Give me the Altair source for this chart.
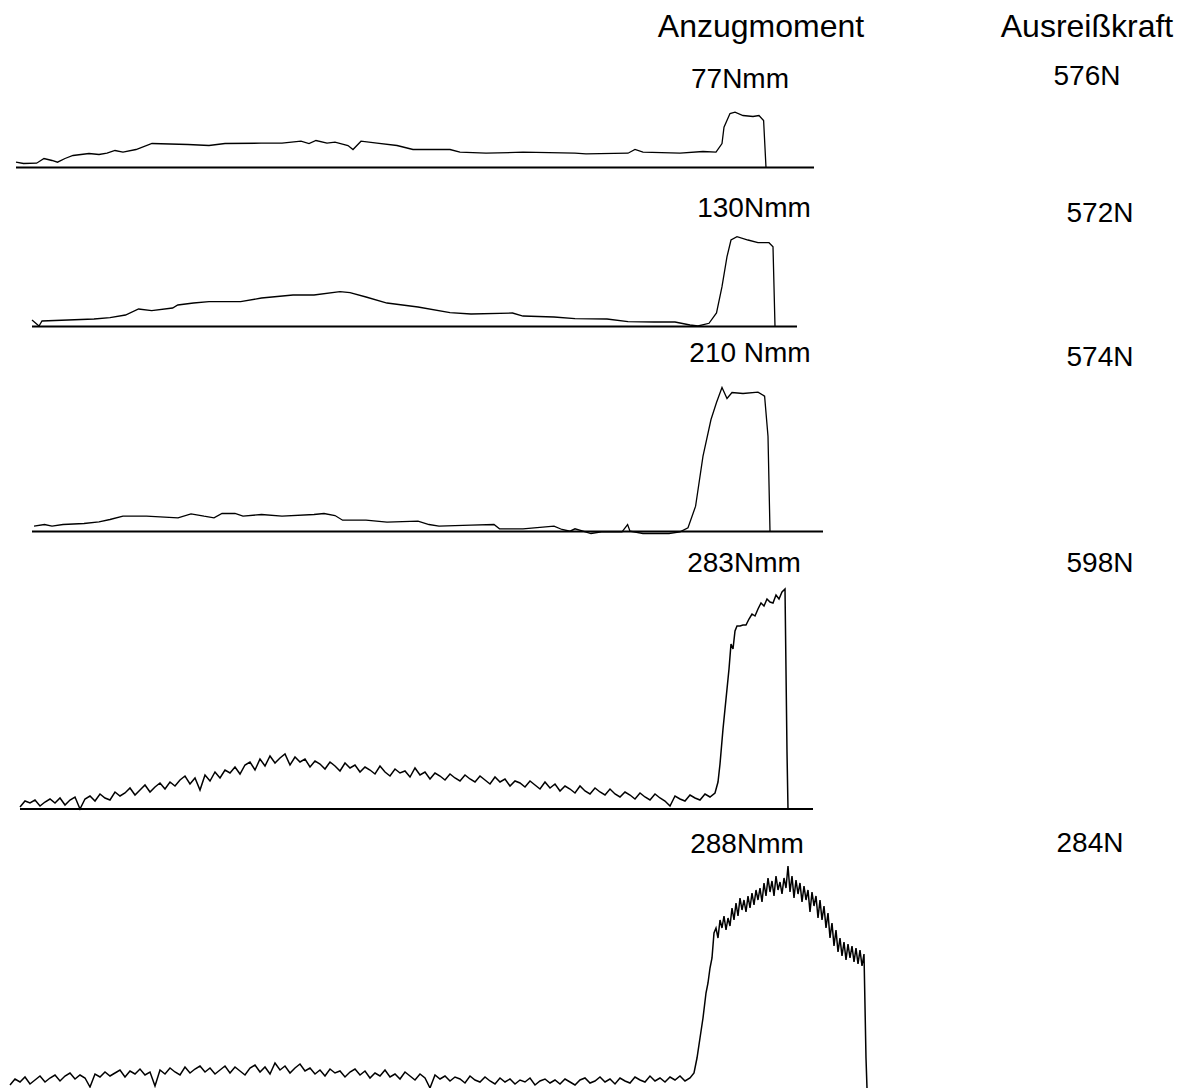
import altair as alt
import pandas as pd

# ---------------- data (readings, level above each trace's zero line) ----------------
p1_x = [16, 23.5, 36.6, 44, 52, 57.5, 65, 73, 89, 99, 107, 115, 123, 136, 152, 188, 209, 225,
        261, 282, 301, 309, 316, 327, 335, 348, 353, 361, 377, 397, 413, 450, 460, 486, 523,
        575, 586, 628, 635, 643, 680, 703, 716, 722, 724, 730, 735, 743, 753, 759, 763.6, 766]
p1_level = [5.3, 4, 4.3, 9, 7, 5.3, 9, 12, 14, 13, 14.3, 17, 15.3, 18, 24, 23, 22, 24,
            24.3, 24.3, 26.3, 24, 27, 24.3, 25.3, 22, 18, 26.3, 24.3, 22, 18, 18, 15.3, 14.3, 15.3,
            14.3, 13.7, 14.3, 18, 15.3, 14.3, 16, 15.3, 24, 40.3, 54, 55.3, 52, 51, 52, 47, 0]

p2_x = [32, 39, 42, 68, 94, 110, 125.5, 138.6, 151.7, 172.6, 177.8, 193.5, 209, 240.6, 261.5,
        293, 314, 340, 350, 366, 387, 418, 450, 471, 512.5, 523, 554, 575, 607, 628, 654, 675,
        690, 698, 709, 716.5, 722, 727, 731, 737, 748, 758, 769, 773, 775]
p2_level = [6.5, 0.5, 5.5, 6.5, 7.5, 8.8, 11.5, 17.5, 15.8, 18.5, 21.5, 23.5, 24.8, 24.8, 28.5,
            31.5, 31.5, 34.8, 33.8, 29.5, 23.5, 19.5, 13.8, 12.5, 13.5, 10.5, 9.5, 7.8, 7.5, 4.8, 4.5, 4.5,
            1.5, 0.5, 3.2, 13.5, 39.8, 69.8, 86.5, 89.8, 86.5, 83.8, 83.8, 79.8, 0]

p3_x = [34, 44.5, 52, 63, 84, 99, 110, 123, 146.5, 178, 191, 204, 214, 222, 235, 243, 261.5,
        282, 314, 324, 335, 342.6, 366, 387, 418, 429, 439, 471, 494, 499.5, 523, 554, 562, 570,
        575, 583, 591, 601.5, 622, 627.6, 630, 643, 669, 680, 688, 695.6, 703, 711, 716.5, 722,
        727, 732, 743, 758, 764.6, 768, 770]
p3_level = [5.3, 7, 5.3, 7, 8, 9.7, 12, 15.3, 15.3, 13.7, 17.7, 15.3, 13.7, 18, 18, 15.3, 17,
            15.3, 17, 18, 16, 11.3, 11.3, 9.3, 10.3, 7, 5.3, 6.3, 7, 2.7, 2.7, 5.3, 2, 0.3,
            2.7, 0.3, -2, -0.3, -0.3, 7, 0.3, -2, -2, -0.3, 3.7, 25.3, 75.3, 112, 129, 144,
            133, 139, 138, 139.3, 135.3, 95.3, 0]

p4_x = list(range(20, 716, 5)) + [718, 720, 723, 726, 729, 731, 733, 735, 737, 740, 743, 746,
                                   749, 752, 755, 758, 761, 764, 767, 770, 773, 776, 779, 782,
                                   785, 787, 788]
p4_level = [2, 8, 6, 9, 3, 7, 10, 6, 11, 4,
            9, 12, 0, 10, 13, 8, 15, 11, 9, 17,
            13, 16, 21, 14, 19, 24, 17, 22, 26, 20,
            27, 23, 29, 33, 25, 31, 19, 34, 28, 37,
            31, 39, 36, 42, 35, 44, 47, 39, 50, 43,
            53, 46, 51, 55, 44, 52, 47, 50, 42, 48,
            45, 40, 47, 43, 38, 46, 41, 44, 37, 42,
            39, 35, 43, 37, 33, 40, 36, 38, 32, 41,
            34, 37, 30, 36, 33, 29, 35, 31, 28, 34,
            30, 27, 33, 29, 25, 32, 27, 30, 23, 28,
            26, 22, 28, 24, 20, 27, 21, 25, 18, 23,
            20, 16, 23, 18, 15, 21, 17, 14, 20, 15,
            12, 17, 14, 10, 16, 12, 9, 15, 11, 8,
            3, 13, 10, 8, 14, 11, 9, 15, 12, 16,
            27, 45, 80, 110, 140, 165, 160, 178, 183, 183, 184, 184,
            190, 195, 193, 200, 206, 203, 210, 207, 206, 214, 210, 217,
            220, 57, 0]

p5_x = list(range(10, 691, 5)) + [694, 697, 700, 703, 706, 708, 710, 712, 714, 716, 718, 720,
                                   722, 724, 726, 728, 730, 732, 734, 736, 738, 740, 742, 744,
                                   746, 748, 750, 752, 754, 756, 758, 760, 762, 764, 766, 768,
                                   770, 772, 774, 776, 778, 780, 782, 784, 786, 788, 790, 792,
                                   794, 796, 798, 800, 802, 804, 806, 808, 810, 812, 814, 816,
                                   818, 820, 822, 824, 826, 828, 830, 832, 834, 836, 838, 840,
                                   842, 844, 846, 848, 850, 852, 854, 856, 858, 860, 862, 864,
                                   866, 867]
p5_level = [3, 9, 6, 11, 4, 8, 12, 6, 10, 13,
            7, 12, 15, 9, 13, 10, 1, 14, 11, 16,
            12, 15, 18, 11, 17, 14, 19, 13, 16, 2,
            18, 14, 20, 16, 13, 21, 15, 19, 22, 16,
            20, 14, 18, 22, 15, 21, 17, 13, 20, 23,
            16, 21, 14, 25, 18, 22, 15, 20, 24, 17,
            20, 14, 18, 12, 19, 15, 17, 11, 16, 19,
            13, 17, 10, 15, 12, 18, 11, 14, 9, 16,
            12, 8, 14, 10, 0, 13, 9, 12, 7, 11,
            9, 5, 12, 8, 6, 11, 7, 4, 10, 6,
            9, 4, 8, 6, 10, 3, 7, 9, 5, 8,
            4, 9, 6, 3, 8, 10, 5, 7, 11, 6,
            9, 4, 10, 7, 5, 11, 8, 6, 12, 7,
            10, 6, 11, 8, 12, 7, 10,
            15, 30, 50, 70, 95, 105, 120, 130, 155, 160, 150, 168,
            160, 172, 158, 170, 162, 180, 168, 185, 172, 190, 178, 188,
            176, 192, 180, 195, 183, 198, 188, 200, 186, 205, 192, 210,
            196, 207, 192, 212, 198, 206, 194, 210, 200, 222, 196, 212,
            190, 208, 194, 205, 186, 202, 188, 198, 176, 196, 182, 192,
            170, 188, 168, 182, 160, 175, 150, 165, 142, 158, 136, 150,
            132, 146, 128, 144, 130, 142, 126, 140, 124, 138, 122, 134,
            30, 0]

moment_labels = ["77Nmm", "130Nmm", "210 Nmm", "283Nmm", "288Nmm"]
force_labels = ["576N", "572N", "574N", "598N", "284N"]
header_labels = ["Anzugmoment", "Ausreißkraft"]

# ---------------- layout (canvas units, measured top-down) ----------------
W, H = 1185, 1088
zero_line_y = [167.5, 326.5, 531.5, 809, 1088]
zero_line_x = [(16, 814), (32, 797), (32, 823), (20, 813), None]
trace_width = [1.3, 1.3, 1.3, 1.5, 1.5]
moment_pos = [(740, 88), (754, 217), (750, 362), (744, 572), (747, 853)]
force_pos = [(1087, 85), (1100, 222), (1100, 366), (1100, 572), (1090, 852)]
header_pos = [(761, 37), (1087, 37)]

traces = [(p1_x, p1_level), (p2_x, p2_level), (p3_x, p3_level), (p4_x, p4_level), (p5_x, p5_level)]
rows = []
for k, (xs, lv) in enumerate(traces):
    for i, (xv, v) in enumerate(zip(xs, lv)):
        rows.append({"panel": k, "i": i, "x": xv, "y": H - zero_line_y[k] + v,
                     "sw": trace_width[k]})
df = pd.DataFrame(rows)

rule_rows = []
for k, ext in enumerate(zero_line_x):
    if ext is not None:
        rule_rows.append({"x": ext[0], "x2": ext[1], "y": H - zero_line_y[k]})
rdf = pd.DataFrame(rule_rows)

lab_rows = []
for t, (px, py) in zip(moment_labels, moment_pos):
    lab_rows.append({"text": t, "x": px, "y": H - py})
for t, (px, py) in zip(force_labels, force_pos):
    lab_rows.append({"text": t, "x": px, "y": H - py})
ldf = pd.DataFrame(lab_rows)
hdf = pd.DataFrame([{"text": t, "x": p[0], "y": H - p[1]} for t, p in zip(header_labels, header_pos)])

xs = alt.Scale(domain=[0, W], nice=False, zero=False)
ys = alt.Scale(domain=[0, H], nice=False, zero=False)

lines = alt.Chart(df).mark_line(color="black").encode(
    x=alt.X("x:Q", scale=xs, axis=None),
    y=alt.Y("y:Q", scale=ys, axis=None),
    detail="panel:N",
    order="i:Q",
    strokeWidth=alt.StrokeWidth("sw:Q", scale=None, legend=None),
)
rules = alt.Chart(rdf).mark_rule(color="black", strokeWidth=1.8).encode(
    x=alt.X("x:Q", scale=xs, axis=None),
    x2="x2:Q",
    y=alt.Y("y:Q", scale=ys, axis=None),
)
labels = alt.Chart(ldf).mark_text(font="Liberation Sans", fontSize=28, color="black",
                                  align="center", baseline="alphabetic").encode(
    x=alt.X("x:Q", scale=xs, axis=None),
    y=alt.Y("y:Q", scale=ys, axis=None),
    text="text:N",
)
headers = alt.Chart(hdf).mark_text(font="Liberation Sans", fontSize=32, color="black",
                                   align="center", baseline="alphabetic").encode(
    x=alt.X("x:Q", scale=xs, axis=None),
    y=alt.Y("y:Q", scale=ys, axis=None),
    text="text:N",
)

chart = alt.layer(rules, lines, labels, headers).properties(
    width=W, height=H, padding=0,
    autosize=alt.AutoSizeParams(type="none"),
    background="white",
).configure_view(stroke=None)

chart.save("out.html", embed_options={"renderer": "svg", "actions": False})
